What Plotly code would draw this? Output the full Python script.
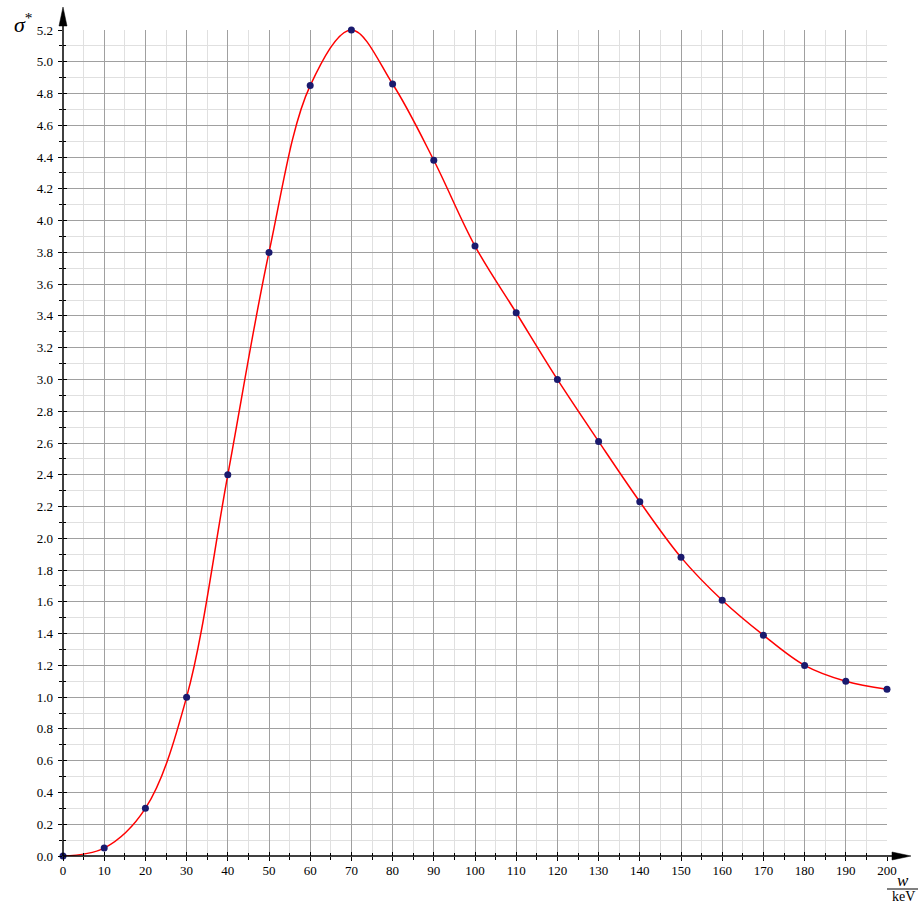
import plotly.graph_objects as go

# ---- data ----
w_keV = [0, 10, 20, 30, 40, 50, 60, 70, 80, 90, 100, 110, 120, 130, 140, 150, 160, 170, 180, 190, 200]
sigma = [0.0, 0.05, 0.30, 1.00, 2.40, 3.80, 4.85, 5.20, 4.86, 4.38, 3.84, 3.42, 3.00, 2.61, 2.23, 1.88, 1.61, 1.39, 1.20, 1.10, 1.05]

W, H = 920, 904
ML, MR, MT, MB = 63, 33, 30, 48
PW, PH = W - ML - MR, H - MT - MB

def px2x(px):
    return (px - ML) / PW

def py2y(py):
    return (H - MB - py) / PH

FONT = "Liberation Serif, Times New Roman, serif"

fig = go.Figure()
fig.add_trace(go.Scatter(
    x=w_keV, y=sigma, mode="lines",
    line=dict(color="#ff0000", width=1.5, shape="spline", smoothing=1.0),
    hoverinfo="skip", showlegend=False, cliponaxis=False))
fig.add_trace(go.Scatter(
    x=w_keV, y=sigma, mode="markers",
    marker=dict(color="#1a1a6e", size=7),
    showlegend=False, cliponaxis=False))
# empty trace to activate the overlay axes (for ticks on the other side)
fig.add_trace(go.Scatter(x=[None], y=[None], xaxis="x2", yaxis="y2", showlegend=False))

tickfont = dict(family=FONT, size=13, color="black")
major_grid = "#a0a0a0"
minor_grid = "#e0e0e0"

fig.update_layout(
    width=W, height=H,
    margin=dict(l=ML, r=MR, t=MT, b=MB),
    paper_bgcolor="white", plot_bgcolor="white",
    font=dict(family=FONT),
    xaxis=dict(range=[0, 200], tick0=0, dtick=10, ticks="inside", ticklen=4,
               tickwidth=1, tickcolor="black",
               showgrid=True, gridcolor=major_grid, gridwidth=1,
               minor=dict(dtick=5, showgrid=True, gridcolor=minor_grid, gridwidth=1,
                          ticks="inside", ticklen=3, tickcolor="black"),
               zeroline=False, showline=False, tickfont=tickfont,
               ticklabelstandoff=5),
    yaxis=dict(range=[0, 5.2], tick0=0, dtick=0.2, tickformat=".1f",
               ticks="inside", ticklen=4, tickwidth=1, tickcolor="black",
               showgrid=True, gridcolor=major_grid, gridwidth=1,
               minor=dict(dtick=0.1, showgrid=True, gridcolor=minor_grid, gridwidth=1,
                          ticks="inside", ticklen=3, tickcolor="black"),
               zeroline=False, showline=False, tickfont=tickfont,
               ticklabelstandoff=9),
    xaxis2=dict(overlaying="x", matches="x", anchor="y2", side="bottom",
                tick0=0, dtick=10, ticks="outside", ticklen=4, tickcolor="black",
                minor=dict(dtick=5, ticks="outside", ticklen=3, tickcolor="black"),
                showticklabels=False, showgrid=False, zeroline=False, showline=False),
    yaxis2=dict(overlaying="y", matches="y", anchor="x2", side="left",
                tick0=0, dtick=0.2, ticks="outside", ticklen=4, tickcolor="black",
                minor=dict(dtick=0.1, ticks="outside", ticklen=3, tickcolor="black"),
                showticklabels=False, showgrid=False, zeroline=False, showline=False),
)

# axis lines with arrows (paper coordinates)
ax_col = "black"
fig.add_shape(type="line", xref="paper", yref="paper", x0=0, y0=0, x1=0, y1=py2y(12),
              line=dict(color=ax_col, width=1.5), layer="above")
fig.add_shape(type="line", xref="paper", yref="paper", x0=0, y0=0, x1=px2x(905), y1=0,
              line=dict(color=ax_col, width=1.5), layer="above")
# y arrow head
fig.add_shape(type="path", xref="paper", yref="paper",
              path=f"M {px2x(ML)} {py2y(7)} L {px2x(ML-4)} {py2y(26)} L {px2x(ML+4)} {py2y(26)} Z",
              fillcolor="black", line=dict(color="black", width=0.5), layer="above")
# x arrow head
fig.add_shape(type="path", xref="paper", yref="paper",
              path=f"M {px2x(911)} {py2y(H-MB)} L {px2x(892)} {py2y(H-MB-4)} L {px2x(892)} {py2y(H-MB+4)} Z",
              fillcolor="black", line=dict(color="black", width=0.5), layer="above")

# axis titles
fig.add_annotation(xref="paper", yref="paper", x=px2x(23), y=py2y(23),
                   text="<i>σ</i><sup>*</sup>", showarrow=False,
                   font=dict(family=FONT, size=22, color="black"),
                   xanchor="center", yanchor="middle")
fig.add_annotation(xref="paper", yref="paper", x=px2x(903), y=py2y(880),
                   text="<i>w</i>", showarrow=False,
                   font=dict(family=FONT, size=17, color="black"),
                   xanchor="center", yanchor="middle")
fig.add_shape(type="line", xref="paper", yref="paper", x0=px2x(887), x1=px2x(918),
              y0=py2y(889), y1=py2y(889), line=dict(color="black", width=1))
fig.add_annotation(xref="paper", yref="paper", x=px2x(903), y=py2y(896),
                   text="keV", showarrow=False,
                   font=dict(family=FONT, size=14, color="black"),
                   xanchor="center", yanchor="middle")

fig.write_html("out.html",
               config={"displayModeBar": False},
               post_script="document.body.style.margin='0px';document.body.style.overflow='hidden';")
